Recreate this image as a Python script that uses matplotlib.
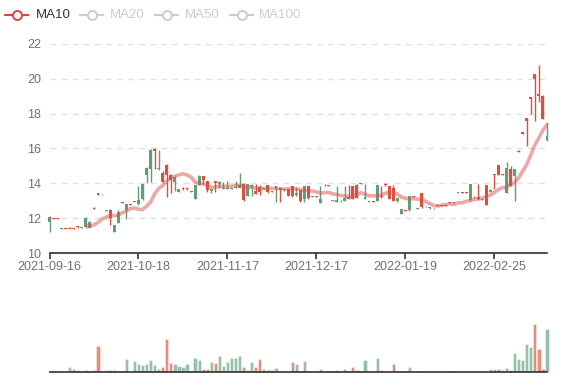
import matplotlib
matplotlib.use('Agg')

import numpy as np
import matplotlib.pyplot as plt

plt.rcParams['font.family'] = ['Liberation Sans', 'DejaVu Sans']

# daily bars: open, high, low, close
opens = [12.08, 11.98, 11.98, 11.42, 11.37, 11.37, 11.37, 11.47, 11.48, 12.0,
         11.8, 12.55, 13.35, 13.4, 12.47, 12.0, 11.6, 12.38, 12.88, 12.8,
         12.78, 12.98, 13.05, 13.95, 14.9, 15.92, 15.85, 14.9, 14.1, 14.5,
         14.2, 14.37, 13.65, 13.65, 13.65, 13.5, 13.9, 14.42, 14.2, 13.6,
         13.65, 14.0, 14.05, 13.75, 13.75, 13.72, 13.78, 13.9, 13.03, 13.95,
         13.93, 13.4, 13.5, 13.72, 13.48, 13.52, 13.85, 13.6, 13.62, 13.3,
         13.25, 13.42, 12.97, 13.82, 13.14, 13.24, 13.23, 13.12, 13.88, 13.83,
         13.03, 13.05, 13.0, 13.15, 13.1, 13.12, 13.15, 13.95, 13.2, 12.97,
         12.93, 13.88, 13.2, 13.9, 13.12, 13.0, 13.15, 12.5, 12.42, 13.28,
         13.22, 12.57, 12.62, 12.7, 12.6, 12.56, 12.71, 12.71, 12.71, 12.86,
         12.86, 13.48, 13.44, 13.44, 13.97, 13.19, 13.1, 13.08, 12.75, 13.63,
         14.45, 14.5, 14.5, 14.87, 13.85, 14.83, 15.82, 16.86, 17.6, 18.85,
         20.0, 19.0, 17.7, 16.7]
highs = [12.1, 12.03, 12.03, 11.43, 11.42, 11.48, 11.42, 11.55, 11.5, 12.05,
         11.82, 12.62, 13.45, 13.41, 12.49, 12.5, 11.62, 12.45, 12.93, 12.82,
         12.82, 13.0, 13.85, 13.97, 14.92, 15.95, 16.0, 15.92, 14.7, 15.1,
         14.55, 14.4, 13.67, 13.8, 13.8, 13.58, 13.92, 14.45, 14.44, 14.15,
         13.68, 14.15, 14.15, 14.05, 14.15, 13.75, 14.15, 14.6, 14.0, 13.98,
         13.98, 13.95, 13.9, 13.75, 13.92, 13.58, 13.87, 13.75, 13.64, 13.67,
         13.84, 13.8, 13.62, 13.84, 13.84, 13.26, 13.28, 13.85, 13.95, 13.88,
         13.05, 13.83, 13.02, 13.85, 13.92, 13.87, 13.94, 14.0, 13.97, 12.99,
         12.98, 13.9, 13.85, 14.0, 13.87, 13.88, 13.17, 12.52, 12.47, 13.3,
         13.28, 12.59, 13.46, 12.72, 12.62, 12.61, 12.76, 12.76, 12.76, 12.91,
         12.91, 13.5, 13.5, 13.5, 13.99, 13.25, 13.97, 13.1, 13.92, 13.65,
         14.56, 15.08, 14.56, 15.2, 15.0, 14.85, 15.9, 16.95, 17.77, 18.97,
         20.25, 20.8, 19.05, 17.5]
lows = [11.19, 11.98, 11.98, 11.36, 11.36, 11.36, 11.36, 11.46, 11.42, 11.45,
        11.45, 12.54, 13.34, 13.34, 12.42, 11.6, 11.2, 11.73, 12.87, 11.98,
        12.77, 12.9, 12.78, 13.05, 14.0, 14.1, 14.85, 14.78, 14.05, 13.23,
        13.45, 13.56, 13.48, 13.63, 13.63, 13.48, 13.1, 13.88, 13.95, 13.5,
        13.45, 13.5, 13.72, 13.65, 13.65, 13.66, 13.72, 13.72, 13.0, 13.28,
        13.3, 13.38, 13.35, 13.66, 13.46, 13.5, 12.95, 12.95, 13.58, 13.28,
        13.23, 13.3, 12.95, 12.95, 13.12, 13.2, 13.22, 12.85, 13.87, 13.82,
        12.97, 12.93, 12.94, 12.97, 13.08, 13.1, 13.13, 13.94, 13.08, 12.92,
        12.92, 12.98, 13.15, 13.85, 13.1, 12.98, 12.95, 12.23, 12.41, 12.43,
        13.21, 12.52, 12.6, 12.65, 12.55, 12.55, 12.7, 12.7, 12.7, 12.85,
        12.85, 13.42, 13.43, 13.43, 13.0, 13.18, 13.05, 13.02, 12.73, 13.48,
        13.7, 14.48, 14.48, 13.45, 13.83, 13.0, 15.8, 16.85, 16.15, 18.0,
        17.6, 18.65, 17.68, 16.45]
closes = [11.77, 12.02, 12.02, 11.38, 11.41, 11.41, 11.41, 11.53, 11.44, 11.47,
          11.46, 12.6, 13.42, 13.36, 12.44, 12.47, 11.22, 11.75, 12.92, 12.48,
          12.81, 12.92, 12.8, 13.1, 14.45, 14.83, 15.95, 14.8, 14.6, 15.05,
          14.5, 14.08, 13.5, 13.75, 13.75, 13.56, 13.12, 13.9, 14.42, 14.15,
          13.55, 14.13, 13.96, 13.7, 13.68, 13.68, 13.75, 13.75, 13.98, 13.3,
          13.8, 13.58, 13.8, 13.68, 13.9, 13.56, 13.65, 13.72, 13.6, 13.65,
          13.82, 13.32, 13.6, 13.12, 13.82, 13.21, 13.27, 12.87, 13.93, 13.86,
          12.99, 12.95, 12.96, 12.98, 13.2, 13.85, 13.92, 13.98, 13.1, 12.94,
          12.96, 13.0, 13.3, 13.98, 13.85, 13.75, 12.97, 12.25, 12.46, 12.45,
          13.26, 12.54, 13.44, 12.67, 12.57, 12.6, 12.75, 12.75, 12.75, 12.9,
          12.9, 13.44, 13.48, 13.48, 13.02, 13.23, 13.2, 13.04, 13.9, 13.5,
          14.55, 15.07, 14.55, 13.46, 14.83, 14.4, 15.88, 16.93, 17.75, 18.95,
          20.25, 19.15, 19.0, 16.5]

volumes = [3, 0, 0, 0, 0, 16, 9, 7, 3, 6,
           3, 6, 77, 0, 5, 6, 5, 4, 0, 38,
           0, 32, 24, 21, 25, 35, 22, 8, 15, 100,
           28, 24, 17, 16, 24, 3, 43, 35, 9, 10,
           30, 27, 48, 19, 30, 41, 42, 49, 14, 7,
           30, 14, 38, 10, 7, 6, 13, 0, 0, 1,
           29, 25, 3, 32, 0, 0, 3, 9, 0, 2,
           0, 6, 0, 8, 3, 15, 5, 4, 36, 0,
           2, 42, 7, 3, 0, 24, 3, 3, 0, 14,
           0, 0, 3, 0, 0, 0, 0, 0, 0, 3,
           0, 0, 0, 0, 0, 0, 0, 0, 0, 9,
           9, 10, 5, 12, 6, 58, 40, 35, 85, 76,
           144, 68, 8, 130]
# 1 = red bar, -1 = green bar
vol_sign = [-1, 1, 1, -1, 1, -1, -1, 1, -1, -1,
            -1, -1, 1, -1, -1, 1, -1, -1, 1, -1,
            1, -1, -1, -1, -1, -1, -1, -1, 1, 1,
            1, -1, -1, -1, -1, 1, -1, -1, 1, 1,
            -1, 1, -1, -1, -1, -1, -1, -1, 1, -1,
            -1, 1, 1, -1, 1, 1, -1, 1, -1, 1,
            1, -1, 1, -1, 1, -1, 1, -1, 1, 1,
            -1, -1, -1, -1, -1, 1, 1, -1, -1, -1,
            -1, -1, -1, 1, 1, 1, -1, -1, 1, -1,
            1, -1, 1, -1, -1, 1, 1, 1, 1, -1,
            1, -1, 1, 1, -1, 1, 1, -1, 1, -1,
            -1, 1, 1, -1, 1, -1, -1, -1, -1, -1,
            1, 1, 1, -1]

tick_pos = [0, 22, 44, 66, 88, 110]
tick_labels = ['2021-09-16', '2021-10-18', '2021-11-17', '2021-12-17', '2022-01-19', '2022-02-25']

up_color = '#d9503f'
down_color = '#5e9f78'
axis_color = '#333333'
label_color = '#6e7079'

o = np.array(opens)
h = np.array(highs)
l = np.array(lows)
c = np.array(closes)
x = np.arange(len(o))
up = c >= o
cols = np.where(up, up_color, down_color)

ma10 = np.full(len(c), np.nan)
for i in range(9, len(c)):
    ma10[i] = c[i - 9:i + 1].mean()

W, H = 577, 380
fig = plt.figure(figsize=(W / 100, H / 100), dpi=100)

ax = fig.add_axes([49.5 / W, (H - 253) / H, (547 - 49.5) / W, (253 - 44) / H])
ax.set_xlim(0, len(o) - 1)
ax.set_ylim(10, 22)
for yv in range(12, 23, 2):
    ax.axhline(yv, color='#e0e0e0', lw=1, ls=(0, (4, 4)), zorder=0)

ax.vlines(x, l, h, colors=cols, lw=1, zorder=2, clip_on=False)
body_bot = np.minimum(o, c)
body_h = np.maximum(np.abs(c - o), 0.05)
ax.bar(x, body_h, bottom=body_bot, width=0.72, color=cols, lw=0, zorder=3, clip_on=False)

ax.plot(x, ma10, color='#d9534f', alpha=0.5, lw=2.6, zorder=4, solid_capstyle='round')

for s in ['top', 'right', 'left']:
    ax.spines[s].set_visible(False)
ax.spines['bottom'].set_color(axis_color)
ax.spines['bottom'].set_linewidth(1.2)
ax.set_yticks(range(10, 23, 2))
ax.tick_params(axis='y', length=0, pad=6, labelsize=9, labelcolor=label_color)
ax.set_xticks(tick_pos)
ax.set_xticklabels(tick_labels)
ax.tick_params(axis='x', length=4, width=1.2, color=axis_color, pad=2,
               labelsize=9, labelcolor=label_color)

# volume panel
vax = fig.add_axes([49.5 / W, 8 / H, (547 - 49.5) / W, 72 / H])
vax.set_xlim(0, len(o) - 1)
vax.set_ylim(0, 216)
vcols = [up_color if s > 0 else down_color for s in vol_sign]
vax.bar(x, volumes, width=0.8, color=vcols, alpha=0.65, edgecolor='white',
        lw=0.4, clip_on=False)
for s in ['top', 'right', 'left']:
    vax.spines[s].set_visible(False)
vax.spines['bottom'].set_color(axis_color)
vax.spines['bottom'].set_linewidth(1.2)
vax.set_xticks([])
vax.set_yticks([])

# legend
lax = fig.add_axes([0, 0, 1, 1])
lax.set_xlim(0, W)
lax.set_ylim(H, 0)
lax.axis('off')
items = [('MA10', 5, 36, '#d9473f', '#333333'),
         ('MA20', 80, 110, '#cccccc', '#cccccc'),
         ('MA50', 155, 185, '#cccccc', '#cccccc'),
         ('MA100', 230, 259, '#cccccc', '#cccccc')]
for name, x0, tx, lc, tc in items:
    lax.plot([x0, x0 + 23], [15, 15], color=lc, lw=1.5)
    lax.plot([x0 + 11.5], [15], marker='o', ms=6.5, mfc='white', mec=lc, mew=1.4)
    lax.text(tx, 15, name, color=tc, fontsize=9.5, va='center', ha='left')

fig.savefig('out.png', dpi=100)
